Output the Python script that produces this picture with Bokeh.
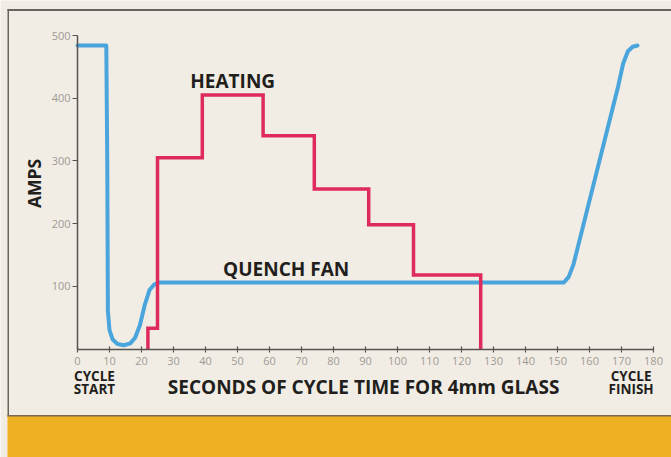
import math
from bokeh.plotting import figure
from bokeh.models import Range1d, FixedTicker, BoxAnnotation, LinearAxis
from bokeh.core.properties import value
from bokeh.embed import file_html
from bokeh.resources import INLINE

# ---- data ----
fan_t = [0, 9, 9.3, 9.5, 10, 11, 12.5, 14.5, 16.5, 18, 19.5, 21, 22.5, 24, 25.5, 27,
         152, 153.5, 155, 169, 170.5, 172, 173.5, 175]
fan_a = [484, 484, 300, 60, 30, 15, 8, 6, 9, 18, 38, 70, 94, 103, 106, 106,
         106, 115, 135, 420, 455, 475, 482, 484]

heat_t = [22, 25, 39, 58, 74, 91, 105, 126]          # step start times (s)
heat_a = [33, 305, 405, 340, 255, 198, 118, 0]       # amps from each step

x_ticks = list(range(0, 181, 10))
y_ticks = [100, 200, 300, 400, 500]

CREAM = "#f1ede5"
DARK = "#221e1c"
GREY = "#a09a93"
BLUE = "#4aa5dc"
RED = "#df2a5c"
BORDER = "#6a625d"

W, H = 671, 457
X0_PX, X_SCALE = 77.0, 3.2          # pixel of t=0, px per second
Y0_PX, Y_SCALE = 348.5, 0.627       # pixel of 0 A, px per amp

p = figure(width=W, height=H, output_backend="svg", toolbar_location=None,
           x_range=Range1d(-X0_PX / X_SCALE, 180 + (W - X0_PX - 180 * X_SCALE) / X_SCALE),
           y_range=Range1d(-(H - Y0_PX) / Y_SCALE, Y0_PX / Y_SCALE),
           x_axis_location=None, y_axis_location=None, min_border=0,
           background_fill_color=CREAM, border_fill_color=CREAM, outline_line_color=None)
p.grid.visible = False

# frame border lines and orange band (canvas units)
def box(l, r, t, b, color, **kw):
    p.add_layout(BoxAnnotation(left=l, right=r, top=t, bottom=b, left_units="canvas",
                               right_units="canvas", top_units="canvas", bottom_units="canvas",
                               fill_color=color, fill_alpha=1, line_color=None, level="underlay", **kw))

box(7, W, 8.5, 10.5, BORDER)
box(7, 8.5, 8.5, 416, BORDER)
box(7, W, 415, H, "#efb124")
box(7, W, 414.5, 416, "#7a6a52")

# heating step line built from the step arrays
hx, hy = [heat_t[0]], [0]
for i, t in enumerate(heat_t):
    hx.append(t)
    hy.append(heat_a[i - 1] if i > 0 else 0)
    hx.append(t)
    hy.append(heat_a[i])

p.line(fan_t, fan_a, line_color=BLUE, line_width=4, line_join="round", line_cap="round")
p.line(hx, hy, line_color=RED, line_width=3.5, line_join="miter")

xa = LinearAxis(fixed_location=0, bounds=(0, 180), ticker=FixedTicker(ticks=x_ticks))
ya = LinearAxis(fixed_location=0, bounds=(0, 500), ticker=FixedTicker(ticks=y_ticks))
p.add_layout(xa, "below")
p.add_layout(ya, "left")
for ax in (xa, ya):
    ax.axis_line_color = "#5a5450"
    ax.axis_line_width = 1.5
    ax.major_tick_line_color = "#5a5450"
    ax.major_tick_line_width = 1.2
    ax.minor_tick_line_color = None
    ax.major_label_text_font = "Open Sans"
    ax.major_label_text_font_size = "11px"
    ax.major_label_text_color = GREY
xa.major_tick_in = 3
xa.major_tick_out = 3
xa.major_label_standoff = 5
ya.major_tick_in = 0
ya.major_tick_out = 5
ya.major_label_standoff = 2

def txt(x, y, s, size, angle=0.0):
    p.text(x=[x], y=[y], text=[s], angle=angle, text_font=value("Open Sans"), text_font_style="bold",
           text_font_size=size, text_color=DARK, text_align="center", text_baseline="middle")

# labels
txt(48.5, 428, "HEATING", "19px")
txt(65.2, 128, "QUENCH FAN", "19px")
txt(89.4, -60, "SECONDS OF CYCLE TIME FOR 4mm GLASS", "19px")
txt(-13.75, 264, "AMPS", "17.5px", angle=math.pi / 2)
for xt, words in ((5.3, ("CYCLE", "START")), (173, ("CYCLE", "FINISH"))):
    for yv, w in zip((-43, -64), words):
        txt(xt, yv, w, "13.5px")

open("out.html", "w").write(file_html(p, INLINE))
